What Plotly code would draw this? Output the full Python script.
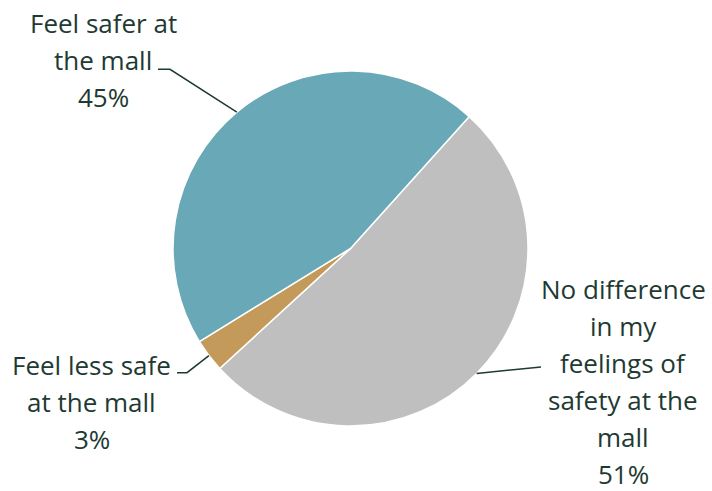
import math
import plotly.graph_objects as go

categories = ["No difference in my feelings of safety at the mall",
              "Feel less safe at the mall",
              "Feel safer at the mall"]
values = [51, 3, 45]
colors = ["#bfbfbf", "#c49a5b", "#68a8b7"]
label_lines = [["No difference", "in my", "feelings of", "safety at the", "mall"],
               ["Feel less safe", "at the mall"],
               ["Feel safer at", "the mall"]]

W, H = 712, 491
CX, CY, R = 350.5, 248.5, 177.5
ROT = 42
FS = 26
LH = 37.0
TXT = "#1e3a33"
FONT = "Open Sans"

# label layout: (center x, first baseline y, leader path points after the edge point)
label_layout = [
    (623, 298, [(541, 367)]),
    (91.5, 374, [(187, 372.7), (177, 372.7)]),
    (103, 31.7, [(170, 69.3), (158, 69.3)]),
]


def px(x):
    return x / W


def py(y):
    return 1 - y / H


fig = go.Figure(go.Pie(
    labels=categories, values=values, sort=False, direction="clockwise",
    rotation=ROT,
    marker=dict(colors=colors, line=dict(color="white", width=1.5)),
    textinfo="none", hoverinfo="label+percent", showlegend=False,
    domain=dict(x=[px(CX - R), px(CX + R)], y=[py(CY + R), py(CY - R)]),
))

total = sum(values)
cum = 0
annotations = []
shapes = []
for i, v in enumerate(values):
    mid = ROT + (cum + v / 2) / total * 360
    cum += v
    ex = CX + R * math.sin(math.radians(mid))
    ey = CY - R * math.cos(math.radians(mid))
    lx, ly, pts = label_layout[i]
    path = [(ex, ey)] + pts
    d = "M " + " L ".join(f"{px(a):.5f} {py(b):.5f}" for a, b in path)
    shapes.append(dict(type="path", path=d, xref="paper", yref="paper",
                       line=dict(color=TXT, width=1.5)))
    lines = label_lines[i] + [f"{v}%"]
    for k, t in enumerate(lines):
        base = ly + k * LH
        annotations.append(dict(
            text=t, x=px(lx), y=py(base - 0.35 * FS), xref="paper", yref="paper",
            xanchor="center", yanchor="middle", showarrow=False, borderpad=0,
            font=dict(family=FONT, size=FS, color=TXT)))

fig.update_layout(
    width=W, height=H, margin=dict(l=0, r=0, t=0, b=0),
    paper_bgcolor="white", plot_bgcolor="white",
    annotations=annotations, shapes=shapes,
)

fig.write_html("out.html", config={"displayModeBar": False},
               post_script="document.body.style.margin='0';document.body.style.overflow='hidden';")
